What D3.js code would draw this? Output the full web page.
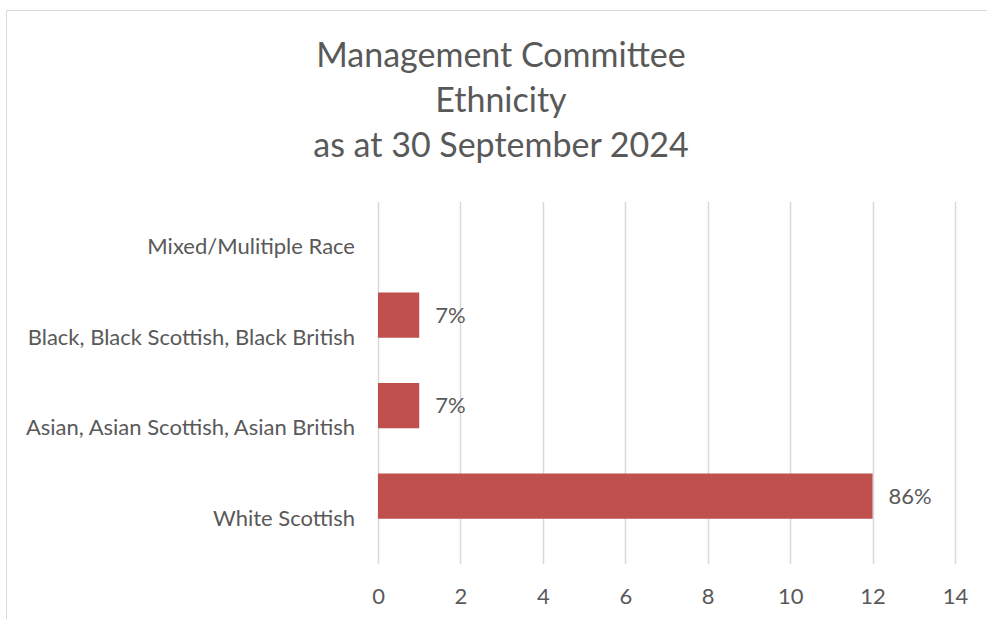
<!DOCTYPE html>
<html>
<head>
<meta charset="utf-8">
<script src="https://cdn.jsdelivr.net/npm/d3@7"></script>
<style>
  html, body { margin: 0; padding: 0; background: #fff; }
  svg { display: block; }
  text { font-family: Lato, "Open Sans", sans-serif; fill: #595959; }
</style>
</head>
<body>
<svg id="chart" width="987" height="619"></svg>
<script>
// Management committee members by ethnicity (head count)
const categories = [
  "Mixed/Mulitiple Race",
  "Black, Black Scottish, Black British",
  "Asian, Asian Scottish, Asian British",
  "White Scottish"
];
const counts = [0, 1, 1, 12];
const xTicks = [0, 2, 4, 6, 8, 10, 12, 14];
const titleLines = ["Management Committee", "Ethnicity", "as at 30 September 2024"];

const total = d3.sum(counts);
const svg = d3.select("#chart");
const W = 987, H = 619;
const FONT = "Lato, 'Open Sans', sans-serif";

// chart frame
svg.append("path")
  .attr("d", `M6.5,${H} V10.5 H${W}`)
  .attr("fill", "none")
  .attr("stroke", "#d9d9d9")
  .attr("stroke-width", 1);

const margin = { left: 378, right: 32, top: 202, bottom: 55 };
const x = d3.scaleLinear().domain([0, 14]).range([margin.left, W - margin.right]);
const y = d3.scaleBand().domain(categories).range([margin.top, H - margin.bottom]).padding(0);

// title
svg.append("g").selectAll("text")
  .data(titleLines)
  .join("text")
  .attr("x", 501)
  .attr("y", (d, i) => 67 + i * 45)
  .attr("text-anchor", "middle")
  .style("font-size", "34px")
  .text(d => d);

// vertical gridlines
svg.append("g").selectAll("line")
  .data(xTicks)
  .join("line")
  .attr("x1", d => Math.round(x(d)) + 0.5)
  .attr("x2", d => Math.round(x(d)) + 0.5)
  .attr("y1", margin.top)
  .attr("y2", H - margin.bottom)
  .attr("stroke", "#d9d9d9")
  .attr("stroke-width", 1.5);

// x axis labels
const xAxis = d3.axisBottom(x).tickValues(xTicks).tickSize(0).tickPadding(0);
const gx = svg.append("g")
  .attr("transform", `translate(0,${H - margin.bottom})`)
  .call(xAxis);
gx.select(".domain").remove();
gx.selectAll("text")
  .attr("dy", null)
  .attr("y", 40)
  .style("font-size", "22px")
  .style("font-family", FONT)
  .attr("fill", "#595959");

// category labels, centred on each band
const yAxis = d3.axisLeft(y).tickSize(0).tickPadding(0);
const gy = svg.append("g")
  .attr("transform", `translate(355,0)`)
  .call(yAxis);
gy.select(".domain").remove();
gy.selectAll("text")
  .attr("dy", "0.32em")
  .style("font-size", "22px")
  .style("font-family", FONT)
  .attr("fill", "#595959");

// bars occupy the upper half of each band
const rows = categories.map((c, i) => ({ cat: c, value: counts[i] }));
const barH = y.bandwidth() / 2;
svg.append("g").selectAll("rect")
  .data(rows)
  .join("rect")
  .attr("x", x(0))
  .attr("y", d => y(d.cat))
  .attr("width", d => x(d.value) - x(0))
  .attr("height", barH)
  .attr("fill", "#C0504D");

// percentage labels
svg.append("g").selectAll("text")
  .data(rows.filter(d => d.value > 0))
  .join("text")
  .attr("x", d => x(d.value) + 16)
  .attr("y", d => y(d.cat) + barH / 2)
  .attr("dy", "0.35em")
  .style("font-size", "22px")
  .text(d => Math.round(d.value / total * 100) + "%");
</script>
</body>
</html>
